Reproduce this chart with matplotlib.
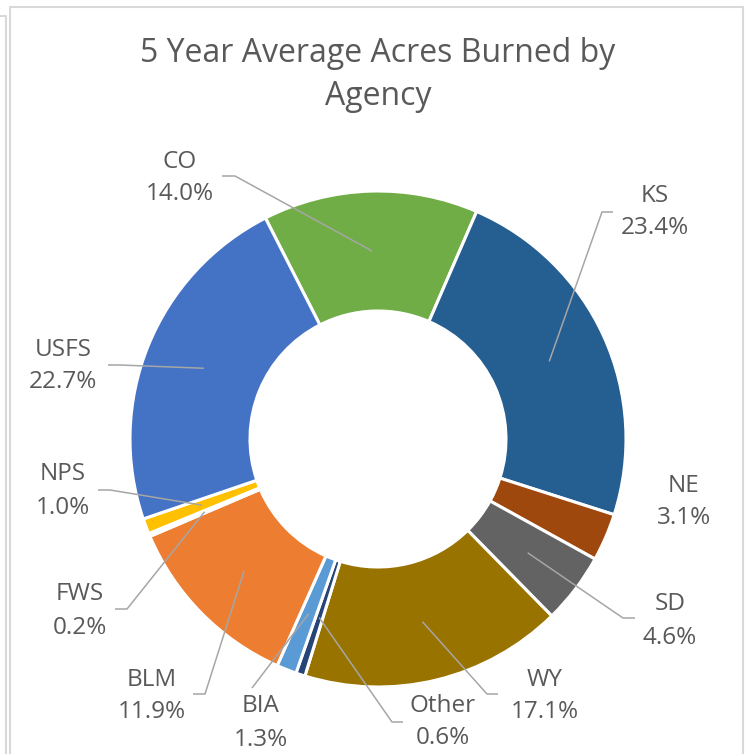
import math

import matplotlib

matplotlib.use("Agg")
import matplotlib.pyplot as plt
from matplotlib.lines import Line2D

# data, clockwise from the top
agencies = ["CO", "KS", "NE", "SD", "WY", "Other", "BIA", "BLM", "FWS", "NPS", "USFS"]
shares = [14.0, 23.4, 3.1, 4.6, 17.1, 0.6, 1.3, 11.9, 0.2, 1.0, 22.7]
colors = ["#70AD47", "#255E91", "#9E480E", "#636363", "#997300", "#264478",
          "#5B9BD5", "#ED7D31", "#A5A5A5", "#FFC000", "#4472C4"]

W, H = 751, 754
TEXT = "#595959"
LEADER = "#A6A6A6"
FONT = "Open Sans"

# label layout in pixel coords (top-left origin): text centre, leader hook points
label_pos = {
    "CO": ((180, 178), [(222, 176), (235, 176)]),
    "KS": ((655, 212), [(613, 212), (602, 212)]),
    "NE": ((684, 502), None),
    "SD": ((670, 621), [(635, 618), (623, 618)]),
    "WY": ((545, 696), [(498, 694), (487, 694)]),
    "Other": ((443, 722), [(403, 722), (392, 722)]),
    "BIA": ((261, 723), [(252, 688)]),
    "BLM": ((152, 696), [(193, 694), (205, 694)]),
    "FWS": ((80, 611), [(115, 609), (127, 609)]),
    "NPS": ((63, 491), [(98, 490), (110, 490)]),
    "USFS": ((63, 366), [(108, 365), (120, 365)]),
}


def fy(y):
    return H - y


fig = plt.figure(figsize=(W / 100, H / 100), dpi=100)
ax = fig.add_axes([0, 0, 1, 1])

cx, cy, R, ring = 378, fy(439), 248, 120
wedges, _ = ax.pie(
    shares,
    colors=colors,
    startangle=117,
    counterclock=False,
    radius=R,
    center=(cx, cy),
    wedgeprops=dict(width=ring, edgecolor="white", linewidth=2.2),
)

ax.set_xlim(0, W)
ax.set_ylim(0, H)
ax.set_aspect("auto")
ax.axis("off")

r_mid = R - ring / 2
for name, val, w in zip(agencies, shares, wedges):
    (tx, ty), hook = label_pos[name]
    ax.text(tx, fy(ty), f"{name}\n{val:.1f}%", ha="center", va="center",
            fontsize=17.5, color=TEXT, family=FONT, linespacing=1.5)
    if hook is None:
        continue
    mid = math.radians((w.theta1 + w.theta2) / 2)
    ex, ey = cx + r_mid * math.cos(mid), cy + r_mid * math.sin(mid)
    xs = [p[0] for p in hook] + [ex]
    ys = [fy(p[1]) for p in hook] + [ey]
    ax.plot(xs, ys, color=LEADER, lw=1.1, solid_capstyle="butt")

ax.text(378, fy(75), "5 Year Average Acres Burned by\nAgency", ha="center", va="center",
        fontsize=23, color=TEXT, family=FONT, linespacing=1.4)

# chart area frame
border = "#D9D9D9"
for xs, ys in [([10, 10, 743, 743], [H, 7, 7, H]), ([0, 6, 6], [16, 16, H])]:
    fig.add_artist(Line2D([x / W for x in xs], [1 - y / H for y in ys],
                          color=border, lw=1.5, transform=fig.transFigure))

fig.savefig("out.png", dpi=100)
